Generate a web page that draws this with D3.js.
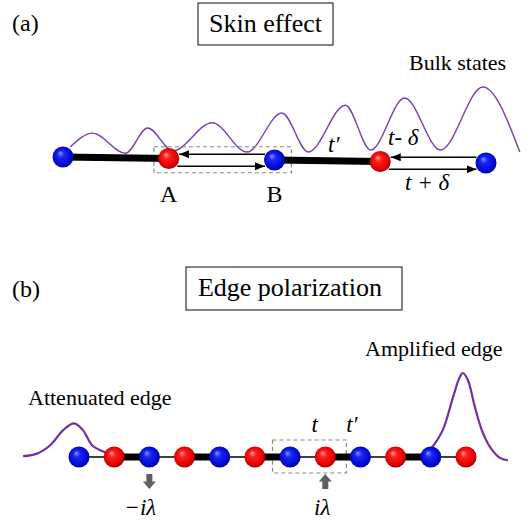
<!DOCTYPE html>
<html>
<head>
<meta charset="utf-8">
<script src="https://cdn.jsdelivr.net/npm/d3@7"></script>
<style>
  body { margin: 0; background: #fff; }
</style>
</head>
<body>
<svg id="fig" width="532" height="525"></svg>
<script>
// ---- panel (a): skin effect, 5 sites ----
const sitesA = ['blue', 'red', 'blue', 'red', 'blue'];
const namesA = ['', 'A', 'B', '', ''];
const bondsA = ["t'", 'nonrecip', "t'", 'nonrecip'];
// bulk state wave (x in site units, amplitude with last peak = 1)
const waveX = [0.07, 0.28, 0.59, 0.80, 1.04, 1.41, 1.74, 2.07, 2.32, 2.67, 2.91, 3.23, 3.57, 3.97, 4.32];
const waveY = [0.08, 0.29, -0.02, 0.37, 0.02, 0.45, 0.0, 0.60, 0.0, 0.72, 0.03, 0.83, 0.03, 1.0, 0.0];

// ---- panel (b): edge polarization, 12 sites ----
const sitesB = ['blue', 'red', 'blue', 'red', 'blue', 'red', 'blue', 'red', 'blue', 'red', 'blue', 'red'];
const bondsB = ['t', "t'", 't', "t'", 't', "t'", 't', "t'", 't', "t'", 't'];
const gainSites = [2, 7];
const gainLabels = ['\u2212i\u03bb', 'i\u03bb'];
const gainDir = ['down', 'up'];
// edge states (x in site units, amplitude with right peak = 1)
const leftEdgeX = [-1.59, -1.19, -0.82, -0.45, -0.14, 0.11, 0.37, 0.6, 0.8];
const leftEdgeY = [0.01, 0.04, 0.14, 0.32, 0.40, 0.32, 0.14, 0.08, 0.05];
const rightEdgeX = [10.03, 10.34, 10.63, 10.82, 10.91, 11.05, 11.25, 11.45, 11.68, 11.96, 12.19];
const rightEdgeY = [0.11, 0.32, 0.71, 0.95, 1.0, 0.92, 0.60, 0.32, 0.12, -0.01, -0.04];

const SERIF = 'Liberation Serif';
const MATH = 'Liberation Serif';

const svg = d3.select('#fig');
const R = 10.5;

// plain text / math text helpers
function label(x, y, s, fs, opts) {
  opts = opts || {};
  return svg.append('text').attr('x', x).attr('y', y)
    .attr('font-family', opts.math ? MATH : SERIF)
    .attr('font-style', opts.math ? 'italic' : 'normal')
    .attr('font-size', fs)
    .attr('text-anchor', opts.anchor || 'start')
    .attr('fill', '#000')
    .text(s);
}

// sphere gradients
const defs = svg.append('defs');
const ballColors = {
  blue: ['#8a96ff', '#1a26f8', '#0008d0', '#000070'],
  red: ['#ffa0a0', '#ff1c1c', '#e20000', '#800000']
};
Object.keys(ballColors).forEach(k => {
  const g = defs.append('radialGradient').attr('id', 'ball-' + k)
    .attr('cx', '50%').attr('cy', '50%').attr('r', '55%')
    .attr('fx', '36%').attr('fy', '30%');
  const c = ballColors[k];
  g.append('stop').attr('offset', '0%').attr('stop-color', c[0]);
  g.append('stop').attr('offset', '30%').attr('stop-color', c[1]);
  g.append('stop').attr('offset', '78%').attr('stop-color', c[2]);
  g.append('stop').attr('offset', '100%').attr('stop-color', c[3]);
});
defs.append('marker').attr('id', 'head')
  .attr('markerUnits', 'userSpaceOnUse')
  .attr('markerWidth', 10).attr('markerHeight', 8)
  .attr('refX', 10).attr('refY', 4).attr('orient', 'auto')
  .append('path').attr('d', 'M0,0 L10,4 L0,8 Z').attr('fill', '#000');

function titleBox(x0, y0, w, h, s, fs, dx) {
  svg.append('rect').attr('x', x0).attr('y', y0).attr('width', w).attr('height', h)
    .attr('fill', 'none').attr('stroke', '#333').attr('stroke-width', 1.2);
  label(x0 + w / 2 + (dx || 0), y0 + h / 2 + fs * 0.3, s, fs, {anchor: 'middle'});
}

// ================= panel (a) =================
const xa = d3.scaleLinear().domain([0, 4]).range([63, 486]);
const chainYa = d3.scaleLinear().domain([0, 4]).range([157, 163]);
const ampA = d3.scaleLinear().domain([0, 1]).range([152, 87]);

label(12, 31, '(a)', 24);
titleBox(198, 3, 135, 42, 'Skin effect', 26);
label(409, 70, 'Bulk states', 22);

// wave
const waveLine = d3.line().x(d => xa(d[0])).y(d => ampA(d[1])).curve(d3.curveMonotoneX);
svg.append('path').datum(d3.zip(waveX, waveY)).attr('d', waveLine)
  .attr('fill', 'none').attr('stroke', '#7a3db5').attr('stroke-width', 1.4);

// unit cell box
svg.append('rect')
  .attr('x', xa(0.86)).attr('y', chainYa(1.5) - 12.5)
  .attr('width', xa(2.16) - xa(0.86)).attr('height', 26)
  .attr('fill', 'none').attr('stroke', '#888').attr('stroke-width', 1.2)
  .attr('stroke-dasharray', '4,3');

// bonds
bondsA.forEach((b, i) => {
  if (b === "t'") {
    svg.append('line').attr('x1', xa(i)).attr('y1', chainYa(i))
      .attr('x2', xa(i + 1)).attr('y2', chainYa(i + 1))
      .attr('stroke', '#000').attr('stroke-width', 7);
  } else {
    const ym = (chainYa(i) + chainYa(i + 1)) / 2;
    svg.append('line').attr('x1', xa(i + 1) - R + 1).attr('y1', ym - 5)
      .attr('x2', xa(i) + R).attr('y2', ym - 5)
      .attr('stroke', '#000').attr('stroke-width', 1.5).attr('marker-end', 'url(#head)');
    svg.append('line').attr('x1', xa(i) + R - 2).attr('y1', ym + 7)
      .attr('x2', xa(i + 1) - R + 1).attr('y2', ym + 7)
      .attr('stroke', '#000').attr('stroke-width', 1.5).attr('marker-end', 'url(#head)');
  }
});

// sites
svg.selectAll('.siteA').data(sitesA).enter().append('circle')
  .attr('class', 'siteA')
  .attr('cx', (d, i) => xa(i)).attr('cy', (d, i) => chainYa(i)).attr('r', R)
  .attr('fill', d => 'url(#ball-' + d + ')');

namesA.forEach((n, i) => { if (n) label(xa(i), 202, n, 24, {anchor: 'middle'}); });

label(328, 152, 't\u2032', 23, {math: true});
label(388, 145, 't- \u03b4', 23, {math: true});
label(405, 190, 't + \u03b4', 23, {math: true});

// ================= panel (b) =================
const xb = d3.scaleLinear().domain([0, 11]).range([79, 466]);
const chainYb = 457;
const ampB = d3.scaleLinear().domain([0, 1]).range([457, 373]);

label(12, 297, '(b)', 24);
titleBox(186, 267, 216, 43, 'Edge polarization', 26, -4);
label(28, 405, 'Attenuated edge', 22);
label(365, 356, 'Amplified edge', 22);

const edgeLine = d3.line().x(d => xb(d[0])).y(d => ampB(d[1])).curve(d3.curveCatmullRom);
[[leftEdgeX, leftEdgeY], [rightEdgeX, rightEdgeY]].forEach(e => {
  svg.append('path').datum(d3.zip(e[0], e[1])).attr('d', edgeLine)
    .attr('fill', 'none').attr('stroke', '#7030a0').attr('stroke-width', 2.2);
});

svg.append('rect')
  .attr('x', xb(5.5)).attr('y', 440)
  .attr('width', xb(7.6) - xb(5.5)).attr('height', 33)
  .attr('fill', 'none').attr('stroke', '#888').attr('stroke-width', 1.2)
  .attr('stroke-dasharray', '4,3');

svg.selectAll('.bondB').data(bondsB).enter().append('line')
  .attr('class', 'bondB')
  .attr('x1', (d, i) => xb(i)).attr('x2', (d, i) => xb(i + 1))
  .attr('y1', chainYb).attr('y2', chainYb)
  .attr('stroke', '#000').attr('stroke-width', d => d === 't' ? 1.5 : 7);

svg.selectAll('.siteB').data(sitesB).enter().append('circle')
  .attr('class', 'siteB')
  .attr('cx', (d, i) => xb(i)).attr('cy', chainYb).attr('r', R)
  .attr('fill', d => 'url(#ball-' + d + ')');

label(xb(6.5) + 7, 432, 't', 23, {math: true, anchor: 'middle'});
label(xb(7.5) + 9, 432, 't\u2032', 23, {math: true, anchor: 'middle'});

// gain / loss block arrows
gainSites.forEach((s, k) => {
  const cx = xb(s);
  const top = 474, bot = 489;
  const sw = 3, hw = 6.5, hl = 7.5;
  const shape = gainDir[k] === 'down'
    ? [[cx - sw, top], [cx + sw, top], [cx + sw, bot - hl], [cx + hw, bot - hl], [cx, bot], [cx - hw, bot - hl], [cx - sw, bot - hl]]
    : [[cx, top], [cx + hw, top + hl], [cx + sw, top + hl], [cx + sw, bot], [cx - sw, bot], [cx - sw, top + hl], [cx - hw, top + hl]];
  svg.append('path').attr('d', d3.line()(shape) + 'Z').attr('fill', '#5f5f5f');
  label(cx - (k === 0 ? 9 : 3), 515, gainLabels[k], 23, {math: true, anchor: 'middle'});
});
</script>
</body>
</html>
